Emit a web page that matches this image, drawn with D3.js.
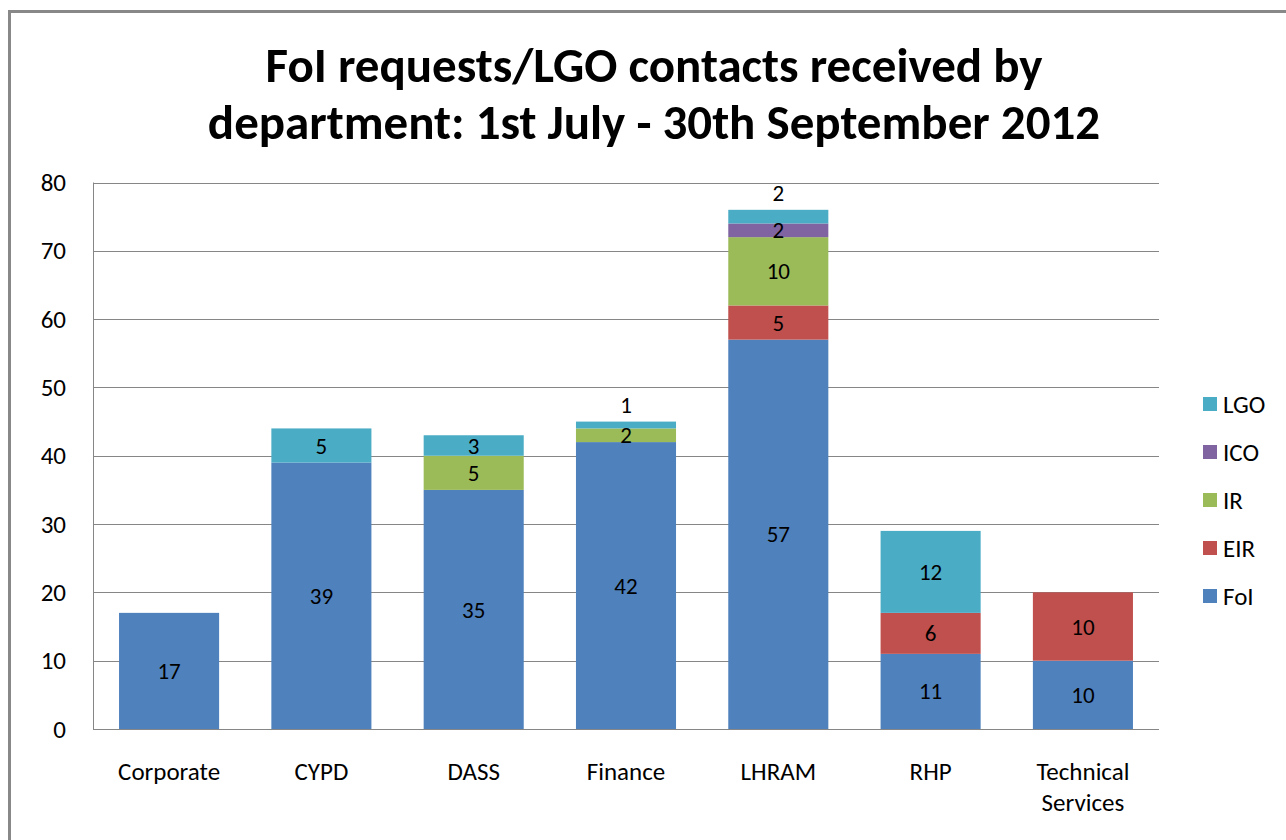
<!DOCTYPE html>
<html>
<head>
<meta charset="utf-8">
<script src="https://cdn.jsdelivr.net/npm/d3@7"></script>
<style>
  html, body { margin: 0; padding: 0; background: #fff; }
  svg { display: block; }
</style>
</head>
<body>
<svg id="chart" width="1286" height="840"></svg>
<script>
// data
const departments = ["Corporate", "CYPD", "DASS", "Finance", "LHRAM", "RHP", "Technical Services"];
const seriesNames = ["FoI", "EIR", "IR", "ICO", "LGO"];
const foi = [17, 39, 35, 42, 57, 11, 10];
const eir = [0, 0, 0, 0, 5, 6, 10];
const ir  = [0, 0, 5, 2, 10, 0, 0];
const ico = [0, 0, 0, 0, 2, 0, 0];
const lgo = [0, 5, 3, 1, 2, 12, 0];
const yTicks = [0, 10, 20, 30, 40, 50, 60, 70, 80];
const titleLines = ["FoI requests/LGO contacts received by", "department: 1st July - 30th September 2012"];

const colors = {FoI: "#4F81BD", EIR: "#C0504D", IR: "#9BBB59", ICO: "#8064A2", LGO: "#4BACC6"};

const rows = departments.map((d, i) => ({
  dept: d, FoI: foi[i], EIR: eir[i], IR: ir[i], ICO: ico[i], LGO: lgo[i]
}));

const svg = d3.select("#chart");
const font = "Carlito, Calibri, 'Open Sans', 'Noto Sans', sans-serif";
const small = 25;

// outer chart border (only top and left show in the frame)
svg.append("rect")
  .attr("x", 9.5).attr("y", 11.5)
  .attr("width", 1400).attr("height", 1000)
  .attr("fill", "none").attr("stroke", "#888").attr("stroke-width", 3);

const plot = {left: 93, top: 182.5, right: 1159, bottom: 729};

const x = d3.scaleBand()
  .domain(departments)
  .range([plot.left, plot.right])
  .paddingInner(0.343).paddingOuter(0.171);

const y = d3.scaleLinear().domain([0, 80]).range([plot.bottom, plot.top]);

// gridlines
svg.append("g")
  .selectAll("line")
  .data(yTicks.filter(t => t > 0))
  .join("line")
  .attr("x1", plot.left).attr("x2", plot.right)
  .attr("y1", d => Math.round(y(d)) + 0.5).attr("y2", d => Math.round(y(d)) + 0.5)
  .attr("stroke", "#868686").attr("stroke-width", 1);

// y axis labels
const yAxis = svg.append("g")
  .attr("transform", `translate(${plot.left},0)`)
  .call(d3.axisLeft(y).tickValues(yTicks).tickSize(0).tickPadding(27));
yAxis.select(".domain").remove();
yAxis.selectAll("text")
  .attr("font-family", font).attr("font-size", small).attr("fill", "#000");

// stacked bars
const stacked = d3.stack().keys(seriesNames)(rows);

const layers = svg.append("g")
  .selectAll("g")
  .data(stacked)
  .join("g")
  .attr("fill", d => colors[d.key]);

layers.selectAll("rect")
  .data(d => d)
  .join("rect")
  .attr("x", d => x(d.data.dept))
  .attr("width", x.bandwidth())
  .attr("y", d => y(d[1]))
  .attr("height", d => y(d[0]) - y(d[1]));

// axis lines
svg.append("line")
  .attr("x1", plot.left + 0.5).attr("x2", plot.left + 0.5)
  .attr("y1", plot.top).attr("y2", plot.bottom)
  .attr("stroke", "#868686");
svg.append("line")
  .attr("x1", plot.left).attr("x2", plot.right)
  .attr("y1", plot.bottom + 0.5).attr("y2", plot.bottom + 0.5)
  .attr("stroke", "#868686");

// data labels, small top segments get pushed above the bar
const labelData = [];
stacked.forEach((layer, li) => {
  layer.forEach(d => {
    const v = d[1] - d[0];
    if (v <= 0) return;
    const isTop = stacked.slice(li + 1).every(l => {
      const s = l.find(e => e.data.dept === d.data.dept);
      return s[1] - s[0] === 0;
    });
    const above = isTop && v <= 2 && li > 1;
    labelData.push({
      dept: d.data.dept, value: v,
      cy: above ? y(d[1]) - 17 : y((d[0] + d[1]) / 2)
    });
  });
});

svg.append("g")
  .selectAll("text")
  .data(labelData)
  .join("text")
  .attr("x", d => x(d.dept) + x.bandwidth() / 2)
  .attr("y", d => d.cy)
  .attr("dy", "0.35em")
  .attr("text-anchor", "middle")
  .attr("font-family", font).attr("font-size", 23).attr("fill", "#000")
  .text(d => d.value);

// category labels, wrapped
const catG = svg.append("g");
departments.forEach(dep => {
  const words = dep.split(" ");
  const t = catG.append("text")
    .attr("x", x(dep) + x.bandwidth() / 2)
    .attr("y", 780)
    .attr("text-anchor", "middle")
    .attr("font-family", font).attr("font-size", small).attr("fill", "#000");
  words.forEach((w, i) => {
    t.append("tspan")
      .attr("x", x(dep) + x.bandwidth() / 2)
      .attr("dy", i === 0 ? 0 : 31)
      .text(w);
  });
});

// legend (top to bottom: LGO ... FoI)
const legendKeys = seriesNames.slice().reverse();
const legend = svg.append("g")
  .selectAll("g")
  .data(legendKeys)
  .join("g")
  .attr("transform", (d, i) => `translate(1203,${404 + i * 48})`);
legend.append("rect")
  .attr("x", 0).attr("y", -7).attr("width", 14).attr("height", 14)
  .attr("fill", d => colors[d]);
legend.append("text")
  .attr("x", 20).attr("dy", "0.35em")
  .attr("font-family", font).attr("font-size", small).attr("fill", "#000")
  .text(d => d);

// title
const title = svg.append("g");
titleLines.forEach((line, i) => {
  title.append("text")
    .attr("x", 654)
    .attr("y", 65 + i * 57)
    .attr("dy", "0.35em")
    .attr("text-anchor", "middle")
    .attr("font-family", font).attr("font-size", 49).attr("font-weight", "bold")
    .attr("fill", "#000")
    .text(line);
});
const targetW = [784, 898];
title.selectAll("text").each(function(d, i) {
  const w = this.getComputedTextLength();
  if (w > targetW[i]) {
    d3.select(this).attr("textLength", targetW[i]).attr("lengthAdjust", "spacingAndGlyphs");
  }
});
</script>
</body>
</html>
